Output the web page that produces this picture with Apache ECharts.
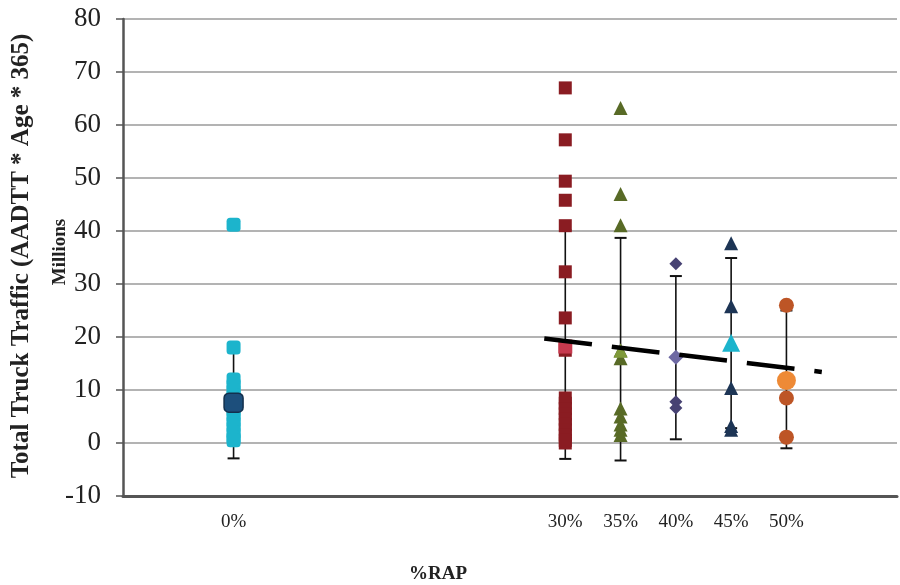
<!DOCTYPE html>
<html>
<head>
<meta charset="utf-8">
<script src="https://cdn.jsdelivr.net/npm/echarts@6/dist/echarts.min.js"></script>
<style>html,body{margin:0;padding:0;background:#fff}#c{width:900px;height:585px}</style>
</head>
<body>
<div id="c"></div>
<script>
// ---- data ----
const xTickValues = [0, 30, 35, 40, 45, 50];
const xTickLabels = ['0%', '30%', '35%', '40%', '45%', '50%'];

const rap0 = [41.2, 18, 12, 11, 10, 9, 8, 7, 6, 5, 4, 3, 2, 1, 0.5];
const rap0Mean = 7.6;
const rap30 = [67, 57.2, 49.4, 45.8, 41, 32.3, 23.6, 17.5, 8.5, 7.5, 6.5, 5.5, 4.5, 3.5, 2.5, 1.5, 0.5, 0];
const rap30Mean = 18.2;
const rap35 = [63.2, 47, 41.1, 17.5, 16, 6.5, 5, 3.5, 2.5, 1.5];
const rap35Mean = 17.4;
const rap40 = [33.8, 7.8, 6.6];
const rap40Mean = 16.2;
const rap45 = [37.7, 25.8, 10.4, 3.2, 2.5];
const rap45Mean = 18.9;
const rap50 = [26, 8.5, 1.1];
const rap50Mean = 11.8;

// error bars: [x, low, high]
const errorBars = [
  [0, -2.9, 18.1],
  [30, -3.0, 40.2],
  [35, -3.3, 38.7],
  [40, 0.7, 31.5],
  [45, 2.8, 34.9],
  [50, -1.0, 25.0]
];

// trend line endpoints
const trend = [[28.1, 19.7], [53.2, 13.4]];

// ---- chart ----
const chart = echarts.init(document.getElementById('c'), null, {renderer: 'canvas'});
const pts = (x, arr) => arr.map(v => [x, v]);

function scatter(name, x, arr, symbol, size, color, z, border) {
  return {
    type: 'scatter', name: name, data: pts(x, arr), symbol: symbol, symbolSize: size, z: z,
    itemStyle: {color: color, borderColor: border || color, borderWidth: border ? 1.5 : 0, opacity: 1},
    emphasis: {disabled: true}
  };
}

const serif = '"Liberation Serif", "DejaVu Serif", serif';

chart.setOption({
  animation: false,
  grid: {left: 123, right: -10, top: 19, bottom: 89, containLabel: false},
  xAxis: {
    type: 'value', min: -10, max: 60, interval: 5,
    axisLine: {show: true, onZero: false, lineStyle: {color: '#555', width: 3}},
    axisTick: {show: false},
    splitLine: {show: false},
    axisLabel: {
      margin: 17, color: '#222', fontFamily: serif, fontSize: 19,
      formatter: v => { const i = xTickValues.indexOf(v); return i >= 0 ? xTickLabels[i] : ''; }
    }
  },
  yAxis: {
    type: 'value', min: -10, max: 80, interval: 10,
    axisLine: {show: true, onZero: false, lineStyle: {color: '#555', width: 2.5}},
    axisTick: {show: true, inside: false, length: 7, lineStyle: {color: '#555', width: 1.5}},
    splitLine: {show: true, lineStyle: {color: '#9a9a9a', width: 1.5}},
    axisLabel: {margin: 22, color: '#222', fontFamily: serif, fontSize: 27}
  },
  graphic: [
    {type: 'text', id: 'yname', x: 22, y: 256, rotation: Math.PI / 2,
      style: {text: 'Total Truck Traffic (AADTT * Age * 365)', font: 'bold 25px ' + serif, fill: '#222', align: 'center', verticalAlign: 'middle'}},
    {type: 'text', id: 'ymil', x: 60, y: 252, rotation: Math.PI / 2,
      style: {text: 'Millions', font: 'bold 19px ' + serif, fill: '#222', align: 'center', verticalAlign: 'middle'}},
    {type: 'text', id: 'xname', x: 438, y: 574,
      style: {text: '%RAP', font: 'bold 19px ' + serif, fill: '#222', align: 'center', verticalAlign: 'middle'}}
  ],
  series: [
    {
      type: 'custom', name: 'err', z: 1,
      renderItem: function (params, api) {
        const x = api.value(0), lo = api.value(1), hi = api.value(2);
        const a = api.coord([x, hi]), b = api.coord([x, lo]);
        const w = 6;
        const st = {stroke: '#111', lineWidth: 1.6};
        return {type: 'group', children: [
          {type: 'line', shape: {x1: a[0], y1: a[1], x2: b[0], y2: b[1]}, style: st},
          {type: 'line', shape: {x1: a[0] - w, y1: a[1], x2: a[0] + w, y2: a[1]}, style: {stroke: '#111', lineWidth: 2}},
          {type: 'line', shape: {x1: b[0] - w, y1: b[1], x2: b[0] + w, y2: b[1]}, style: {stroke: '#111', lineWidth: 2}}
        ]};
      },
      data: errorBars
    },
    scatter('0%', 0, rap0, 'roundRect', 14, '#1cb4cc', 3),
    scatter('0% mean', 0, [rap0Mean], 'roundRect', 19, '#1d4f7c', 4, '#13304d'),
    scatter('30%', 30, rap30, 'rect', 13, '#8a1c22', 3),
    scatter('30% mean', 30, [rap30Mean], 'rect', 14, '#c73a4e', 4),
    scatter('35%', 35, rap35, 'triangle', 14, '#586a26', 3),
    scatter('35% mean', 35, [rap35Mean], 'triangle', 14, '#7f9a3a', 4),
    scatter('40%', 40, rap40, 'diamond', 13, '#474273', 3),
    scatter('40% mean', 40, [rap40Mean], 'diamond', 15, '#6e69a3', 4),
    scatter('45%', 45, rap45, 'triangle', 14, '#1d3555', 3),
    scatter('45% mean', 45, [rap45Mean], 'triangle', 18, '#1cb4cc', 4),
    scatter('50%', 50, rap50, 'circle', 15, '#bd5526', 3),
    scatter('50% mean', 50, [rap50Mean], 'circle', 19, '#ee8a36', 4),
    {
      type: 'line', name: 'trend', data: trend, symbol: 'none', z: 6,
      lineStyle: {color: '#000', width: 4.5, type: [48, 20]}
    }
  ]
});
</script>
</body>
</html>
